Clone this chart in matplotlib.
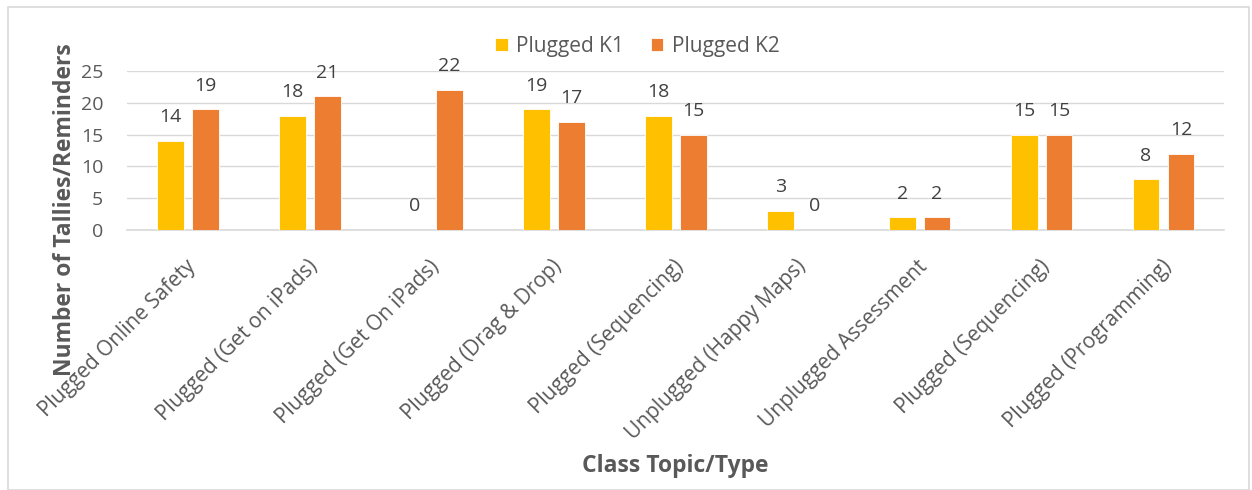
import numpy as np
import matplotlib.pyplot as plt
from matplotlib.patches import Rectangle

categories = ['Plugged Online Safety', 'Plugged (Get on iPads)', 'Plugged (Get On iPads)',
              'Plugged (Drag & Drop)', 'Plugged (Sequencing)', 'Unplugged (Happy Maps)',
              'Unplugged Assessment', 'Plugged (Sequencing)', 'Plugged (Programming)']
k1 = [14, 18, 0, 19, 18, 3, 2, 15, 8]
k2 = [19, 21, 22, 17, 15, 0, 2, 15, 12]

grey = '#595959'
plt.rcParams['font.family'] = ['Open Sans', 'DejaVu Sans']

fig = plt.figure(figsize=(12.52, 4.9), dpi=100)
ax = fig.add_axes([0.1014, 0.5306, 0.8766, 0.3245])

x = np.arange(len(categories))
w = 0.22
off = 0.143
b1 = ax.bar(x - off, k1, w, color='#FFC000', edgecolor='white', linewidth=0.6, label='Plugged K1', zorder=3)
b2 = ax.bar(x + off, k2, w, color='#ED7D31', edgecolor='white', linewidth=0.6, label='Plugged K2', zorder=3)
for bars in (b1, b2):
    ax.bar_label(bars, padding=10.5, fontsize=14, color='#404040', clip_on=False)

ax.set_xlim(-0.5, len(categories) - 0.5)
ax.set_ylim(0, 25)
ax.set_yticks(range(0, 26, 5))
ax.yaxis.grid(True, color='#d9d9d9', linewidth=1, zorder=0)
for s in ['top', 'right', 'left']:
    ax.spines[s].set_visible(False)
ax.spines['bottom'].set_color('#d9d9d9')
ax.spines['bottom'].set_linewidth(1.2)
ax.tick_params(axis='both', length=0, labelsize=14, labelcolor=grey)
ax.tick_params(axis='y', pad=17)

ax.set_xticks(x + 0.04)
ax.set_xticklabels(categories, rotation=45, ha='right', rotation_mode='anchor', fontsize=15)
for lbl in ax.get_xticklabels():
    lbl.set_va('center')
ax.tick_params(axis='x', pad=24)

ax.set_ylabel('Number of Tallies/Reminders', fontsize=16.5, fontweight='bold', color=grey, va='center')
ax.yaxis.set_label_coords(-0.0565, 0.126)
fig.text(0.539, 0.05, 'Class Topic/Type', fontsize=16.5, fontweight='bold', color=grey, ha='center', va='center')

ax.legend(loc='center', bbox_to_anchor=(0.465, 1.155), ncol=2, frameon=False, fontsize=15,
          labelcolor=grey, handlelength=0.6, handleheight=0.6, handletextpad=0.4, columnspacing=1.3)

fig.patches.append(Rectangle((0.006, 0.0), 0.992, 0.985, transform=fig.transFigure,
                             fill=False, edgecolor='#d9d9d9', linewidth=1.2))

fig.savefig('out.png', dpi=100)
